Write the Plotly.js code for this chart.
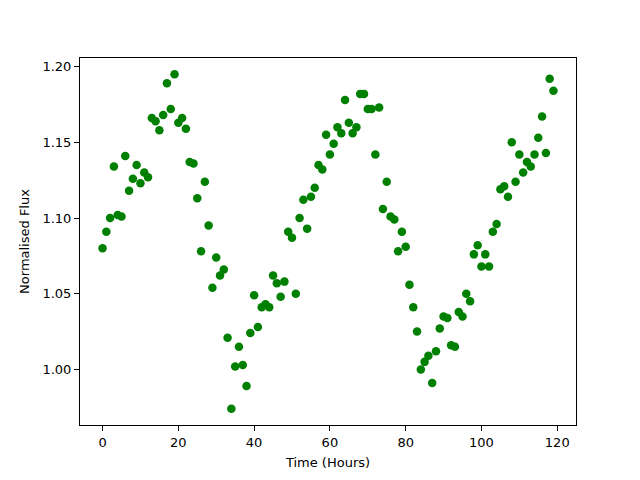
<!DOCTYPE html>
<html>
<head>
<meta charset="utf-8">
<script src="https://cdn.plot.ly/plotly-3.0.1.min.js"></script>
<style>html,body{margin:0;padding:0;background:#fff;}#chart{width:640px;height:480px;}</style>
</head>
<body>
<div id="chart"></div>
<script>
const timeHours = Array.from({length: 120}, (_, i) => i);
const flux = [
1.080,1.091,1.100,1.134,1.102,1.101,1.141,1.118,1.126,1.135,
1.123,1.130,1.127,1.166,1.164,1.158,1.168,1.189,1.172,1.195,
1.163,1.166,1.159,1.137,1.136,1.113,1.078,1.124,1.095,1.054,
1.074,1.062,1.066,1.021,0.974,1.002,1.015,1.003,0.989,1.024,
1.049,1.028,1.041,1.043,1.041,1.062,1.057,1.048,1.058,1.091,
1.087,1.050,1.100,1.112,1.093,1.114,1.120,1.135,1.132,1.155,
1.142,1.149,1.160,1.156,1.178,1.163,1.156,1.160,1.182,1.182,
1.172,1.172,1.142,1.173,1.106,1.124,1.101,1.099,1.078,1.091,
1.081,1.056,1.041,1.025,1.000,1.005,1.009,0.991,1.012,1.027,
1.035,1.034,1.016,1.015,1.038,1.035,1.050,1.045,1.076,1.082,
1.068,1.076,1.068,1.091,1.096,1.119,1.121,1.114,1.150,1.124,
1.142,1.130,1.137,1.134,1.142,1.153,1.167,1.143,1.192,1.184
];
const xTitle = 'Time (Hours)';
const yTitle = 'Normalised Flux';

const font = {family: 'DejaVu Sans, sans-serif', size: 13, color: '#000'};
Plotly.newPlot('chart', [{
  x: timeHours, y: flux, type: 'scatter', mode: 'markers',
  marker: {color: 'green', size: 8.5}
}], {
  width: 640, height: 480,
  margin: {l: 80, r: 64, t: 58, b: 55, pad: 0},
  paper_bgcolor: '#fff', plot_bgcolor: '#fff',
  font: font,
  showlegend: false,
  xaxis: {
    range: [-5.95, 124.95], dtick: 20, tick0: 0,
    showgrid: false, zeroline: false,
    showline: true, mirror: true, linecolor: '#000', linewidth: 1,
    ticks: 'outside', ticklen: 5, tickcolor: '#000',
    tickfont: {family: 'DejaVu Sans, sans-serif', size: 13},
    title: {text: xTitle, font: {family: 'DejaVu Sans, sans-serif', size: 13}, standoff: 9}
  },
  yaxis: {
    range: [0.9633, 1.2057], dtick: 0.05, tick0: 1.0, tickformat: '.2f',
    showgrid: false, zeroline: false,
    showline: true, mirror: true, linecolor: '#000', linewidth: 1,
    ticks: 'outside', ticklen: 5, tickcolor: '#000',
    tickfont: {family: 'DejaVu Sans, sans-serif', size: 13},
    title: {text: yTitle, font: {family: 'DejaVu Sans, sans-serif', size: 13}, standoff: 9}
  }
}, {staticPlot: true});
</script>
</body>
</html>
